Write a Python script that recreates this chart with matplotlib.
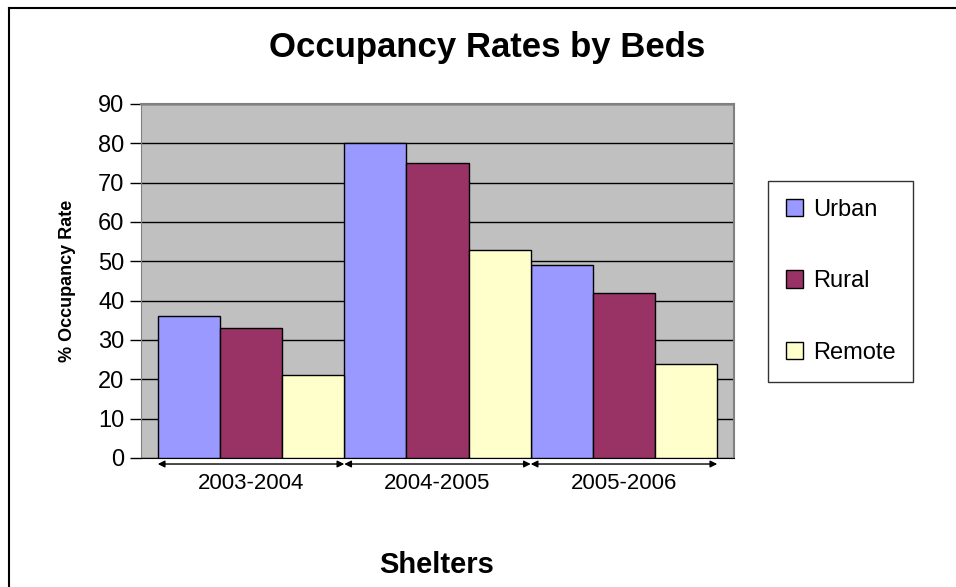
import matplotlib

matplotlib.use("Agg")
import matplotlib.pyplot as plt
import numpy as np
from matplotlib.lines import Line2D
from matplotlib.patches import Patch

plt.rcParams["font.family"] = ["Liberation Sans", "DejaVu Sans"]

# data
years = ["2003-2004", "2004-2005", "2005-2006"]
series = ["Urban", "Rural", "Remote"]
urban = [36, 80, 49]
rural = [33, 75, 42]
remote = [21, 53, 24]

colors = ["#9999FF", "#993366", "#FFFFCC"]

fig = plt.figure(figsize=(9.56, 5.87), dpi=100)
ax = fig.add_axes([141 / 956, 1 - 458 / 587, 593 / 956, 354 / 587])
ax.set_facecolor("#C0C0C0")

x = np.arange(len(years))
w = 1 / 3
for i, (vals, col) in enumerate(zip([urban, rural, remote], colors)):
    ax.bar(x + (i - 1) * w, vals, width=w, color=col, edgecolor="black",
           linewidth=1, zorder=3)

ax.set_ylim(0, 90)
ax.set_yticks(range(0, 91, 10))
ax.set_xlim(-0.59, 2.59)
ax.yaxis.grid(True, color="black", linewidth=1, zorder=0)
ax.set_axisbelow(True)

ax.set_xticks(x)
ax.set_xticklabels(years, fontsize=16)
ax.tick_params(axis="x", length=0, pad=11)
ax.tick_params(axis="y", labelsize=17, length=8, width=1, pad=4, direction="out")

for side in ("top", "right"):
    ax.spines[side].set_color("#808080")
    ax.spines[side].set_linewidth(1.5)
ax.spines["left"].set_color("#808080")
ax.spines["bottom"].set_color("black")

# arrow spans under each category
for xi in x:
    ax.annotate("", xy=(xi + 0.5, -0.017), xytext=(xi - 0.5, -0.017),
                xycoords=("data", "axes fraction"),
                textcoords=("data", "axes fraction"),
                arrowprops=dict(arrowstyle="<|-|>", color="black", lw=1,
                                mutation_scale=10, shrinkA=0, shrinkB=0),
                annotation_clip=False)

ax.set_ylabel("% Occupancy Rate", fontsize=13, fontweight="bold", labelpad=16)

fig.text(487 / 956, 1 - 48 / 587, "Occupancy Rates by Beds", fontsize=25,
         fontweight="bold", ha="center", va="center")
fig.text(437 / 956, 1 - 565 / 587, "Shelters", fontsize=21,
         fontweight="bold", ha="center", va="center")

handles = [Patch(facecolor=c, edgecolor="black", label=s)
           for c, s in zip(colors, series)]
leg = fig.legend(handles=handles, loc="upper left",
                 bbox_to_anchor=(768 / 956, 1 - 181 / 587),
                 fontsize=17, frameon=True, fancybox=False,
                 labelspacing=2.1, handlelength=0.75, handleheight=0.75,
                 handletextpad=0.4, borderpad=0.75, borderaxespad=0)
leg.get_frame().set_edgecolor("black")
leg.get_frame().set_linewidth(1)

# partial outer chart border (top and left edges)
fig.add_artist(Line2D([9 / 956, 1], [1 - 8 / 587, 1 - 8 / 587],
                      transform=fig.transFigure, color="black", lw=1.5))
fig.add_artist(Line2D([9 / 956, 9 / 956], [0, 1 - 8 / 587],
                      transform=fig.transFigure, color="black", lw=1.5))

fig.savefig("out.png", dpi=100)
